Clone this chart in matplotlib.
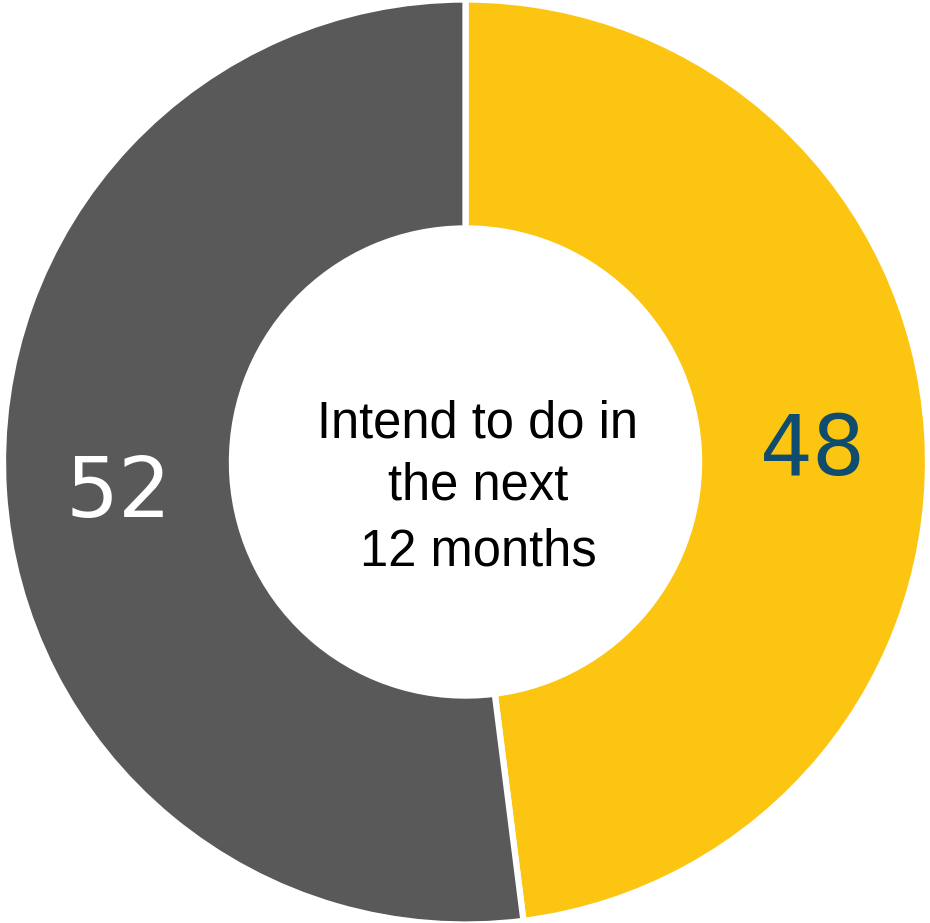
import matplotlib
matplotlib.use('Agg')
from matplotlib import pyplot as plt

# share of respondents
labels = ['Intend to do', 'Other']
values = [48, 52]
colors = ['#FCC511', '#595959']
label_colors = ['#0F4C6D', '#FFFFFF']
centre_lines = ['Intend to do in', 'the next', '12 months']

fig = plt.figure(figsize=(9.30, 9.23), dpi=100)
ax = fig.add_axes([0, 0, 1, 1])

ax.pie(values, colors=colors, startangle=90, counterclock=False,
       radius=1.0, wedgeprops=dict(width=0.495, edgecolor='white', linewidth=4.5))

# value labels on the ring
ax.text(0.752, -0.028, str(values[0]), color=label_colors[0], fontsize=60,
        ha='center', va='baseline', family='DejaVu Sans')
ax.text(-0.751, -0.119, str(values[1]), color=label_colors[1], fontsize=60,
        ha='center', va='baseline', family='DejaVu Sans')

# caption in the hole
for line, y in zip(centre_lines, [0.052, -0.082, -0.224]):
    ax.text(0.027, y, line, color='black', fontsize=36.5, ha='center',
            va='baseline', family='Liberation Sans')

ax.set_xlim(-465.5 / 462.5, 464.5 / 462.5)
ax.set_ylim(-461 / 462.5, 462 / 462.5)
ax.set_aspect('auto')
ax.axis('off')

plt.savefig('out.png', dpi=100)
